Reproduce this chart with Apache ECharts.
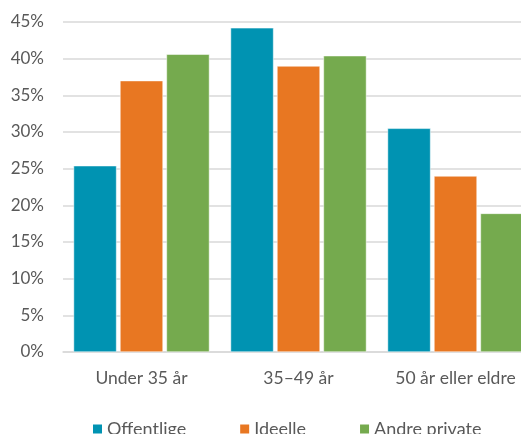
<!DOCTYPE html>
<html>
<head>
<meta charset="utf-8">
<script src="https://cdn.jsdelivr.net/npm/echarts@6/dist/echarts.min.js"></script>
<style>
  html, body { margin: 0; padding: 0; background: #fff; }
  #chart { width: 521px; height: 434px; }
</style>
</head>
<body>
<div id="chart"></div>
<script>
// Age groups and share (%) per sector
const categories = ['Under 35 år', '35–49 år', '50 år eller eldre'];
const seriesNames = ['Offentlige', 'Ideelle', 'Andre private'];
const offentlige = [25.4, 44.2, 30.5];
const ideelle = [37.0, 39.0, 24.0];
const andrePrivate = [40.6, 40.4, 18.9];
const colors = ['#0093b2', '#e87722', '#75aa4e'];

const font = 'Lato, "Open Sans", sans-serif';
const textColor = '#595959';

const chart = echarts.init(document.getElementById('chart'), null, { renderer: 'canvas' });

const seriesData = [offentlige, ideelle, andrePrivate];

chart.setOption({
  animation: false,
  textStyle: { fontFamily: font },
  // the plot runs past the right edge so the last group is clipped
  grid: { left: 63, width: 471, top: 22, height: 330, containLabel: false, outerBoundsMode: 'none' },
  legend: {
    data: seriesNames,
    left: 91,
    top: 420,
    padding: 0,
    itemWidth: 11,
    itemHeight: 11,
    itemGap: 52,
    icon: 'rect',
    textStyle: { color: textColor, fontSize: 18, fontFamily: font, padding: [0, 0, 0, -1] }
  },
  xAxis: {
    type: 'category',
    data: categories,
    axisTick: { show: false },
    axisLine: { lineStyle: { color: '#d9d9d9', width: 1.5 } },
    axisLabel: { color: textColor, fontSize: 17.5, fontFamily: font, margin: 17 }
  },
  yAxis: {
    type: 'value',
    min: 0,
    max: 45,
    interval: 5,
    axisLine: { show: false },
    axisTick: { show: false },
    splitLine: { lineStyle: { color: '#d9d9d9', width: 1.5 } },
    axisLabel: { color: textColor, fontSize: 17, fontFamily: font, margin: 19, formatter: '{value}%' }
  },
  series: seriesNames.map((name, i) => ({
    name: name,
    type: 'bar',
    data: seriesData[i],
    barWidth: 43,
    barGap: '8%',
    itemStyle: { color: colors[i], borderColor: '#ffffff', borderWidth: 0.5 }
  }))
});
</script>
</body>
</html>
